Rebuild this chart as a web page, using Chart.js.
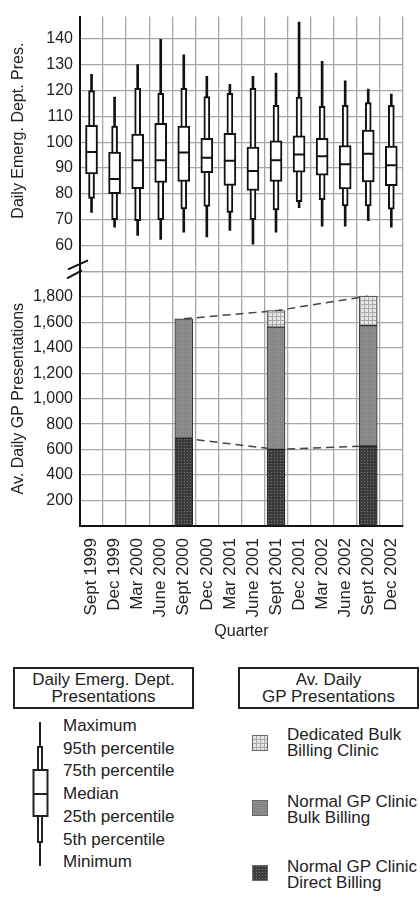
<!DOCTYPE html>
<html>
<head>
<meta charset="utf-8">
<script src="https://cdn.jsdelivr.net/npm/chart.js@4/dist/chart.umd.min.js"></script>
<style>
html, body { margin: 0; padding: 0; background: #fff; overflow: hidden; width: 420px; height: 899px; }
body { position: relative; font-family: "Liberation Sans", Arial, sans-serif; color: #222; }
#wrap { position: absolute; left: 0; top: 0; width: 424px; height: 645px; }
.box { position: absolute; border: 2px solid #222; box-sizing: border-box; text-align: center;
       font-size: 17px; line-height: 17px; display: flex; flex-direction: column; justify-content: center; }
.lab { position: absolute; font-size: 17px; line-height: 17px; white-space: nowrap; }
.lab2 { position: absolute; font-size: 17px; line-height: 16px; white-space: nowrap; }
.sw { position: absolute; width: 16px; height: 16px; }
</style>
</head>
<body>
<div id="wrap"><canvas id="chart" width="424" height="645"></canvas></div>

<div class="box" style="left:13px;top:667px;width:181px;height:42px">Daily Emerg. Dept.<br>Presentations</div>
<div class="box" style="left:238px;top:667px;width:181px;height:42px">Av. Daily<br>GP Presentations</div>

<svg style="position:absolute;left:0;top:0" width="60" height="899">
  <line x1="40" y1="722" x2="40" y2="866" stroke="#222" stroke-width="2"/>
  <rect x="38" y="747" width="4" height="95" fill="#fff" stroke="#222" stroke-width="2"/>
  <rect x="33.5" y="770" width="14" height="46" fill="#fff" stroke="#222" stroke-width="2"/>
  <line x1="33" y1="794" x2="48" y2="794" stroke="#222" stroke-width="2"/>
</svg>
<div class="lab" style="left:63px;top:717px">Maximum</div>
<div class="lab" style="left:63px;top:740px">95th percentile</div>
<div class="lab" style="left:63px;top:762px">75th percentile</div>
<div class="lab" style="left:63px;top:785px">Median</div>
<div class="lab" style="left:63px;top:808px">25th percentile</div>
<div class="lab" style="left:63px;top:831px">5th percentile</div>
<div class="lab" style="left:63px;top:853px">Minimum</div>

<canvas class="sw" id="sw1" width="16" height="16" style="left:252px;top:735px"></canvas>
<canvas class="sw" id="sw2" width="16" height="16" style="left:252px;top:800px"></canvas>
<canvas class="sw" id="sw3" width="16" height="16" style="left:252px;top:865px"></canvas>
<div class="lab2" style="left:287px;top:727px">Dedicated Bulk<br>Billing Clinic</div>
<div class="lab2" style="left:287px;top:794px">Normal GP Clinic<br>Bulk Billing</div>
<div class="lab2" style="left:287px;top:859px">Normal GP Clinic<br>Direct Billing</div>

<script>
// quarters on the x axis
var quarters = ["Sept 1999", "Dec 1999", "Mar 2000", "June 2000", "Sept 2000", "Dec 2000", "Mar 2001",
                "June 2001", "Sept 2001", "Dec 2001", "Mar 2002", "June 2002", "Sept 2002", "Dec 2002"];

// daily emergency dept. presentations (box plot stats)
var edMin    = [72.8, 67.1, 63.9, 62.4, 65.2, 63.3, 65.8, 60.5, 65.2, 74.7, 67.5, 67.5, 69.6, 67.1];
var edP5     = [78.2, 70.0, 69.6, 70.0, 74.2, 75.1, 72.8, 70.0, 73.8, 77.0, 77.8, 75.3, 75.3, 74.1];
var edP25    = [87.7, 80.1, 82.0, 84.4, 84.8, 88.2, 83.3, 81.3, 84.8, 88.4, 87.3, 81.9, 84.6, 83.2];
var edMedian = [96.2, 85.8, 93.0, 93.0, 96.0, 94.0, 92.8, 88.9, 93.0, 95.3, 94.6, 91.5, 95.6, 91.1];
var edP75    = [106.6, 96.2, 103.2, 107.3, 106.3, 101.5, 103.5, 98.1, 100.6, 102.5, 101.5, 98.7, 104.7, 98.5];
var edP95    = [120.0, 106.3, 120.9, 119.0, 120.9, 117.7, 119.0, 120.9, 114.3, 117.5, 113.9, 114.3, 115.4, 114.3];
var edMax    = [126.3, 117.5, 130.1, 139.9, 133.9, 125.6, 122.5, 125.6, 126.8, 146.6, 131.4, 123.8, 120.6, 118.7];

// av. daily GP presentations
var gpDirect    = [null, null, null, null, 689, null, null, null, 602, null, null, null, 628, null];
var gpBulk      = [null, null, null, null, 938, null, null, null, 960, null, null, null, 946, null];
var gpDedicated = [null, null, null, null, null, null, null, null, 129, null, null, null, 231, null];

var gpTotal = gpDirect.map(function (v, i) {
  return v === null ? null : v + gpBulk[i] + (gpDedicated[i] || 0);
});

// textures for the bars
function pattern(size, base, ink, draw) {
  var c = document.createElement("canvas");
  c.width = c.height = size;
  var g = c.getContext("2d");
  g.fillStyle = base;
  g.fillRect(0, 0, size, size);
  g.fillStyle = ink;
  draw(g);
  return g.createPattern(c, "repeat");
}
var directFill = pattern(3, "#3c3c3c", "#737373", function (g) { g.fillRect(1, 1, 1, 1); });
var bulkFill = pattern(2, "#8e8e8e", "#7a7a7a", function (g) { g.fillRect(0, 0, 1, 1); });
var dedicatedFill = pattern(4, "#e6e6e6", "#a8a8a8", function (g) { g.fillRect(0, 0, 4, 1); g.fillRect(0, 0, 1, 4); });

// legend swatches
[["sw1", dedicatedFill], ["sw2", bulkFill], ["sw3", directFill]].forEach(function (s) {
  var g = document.getElementById(s[0]).getContext("2d");
  g.fillStyle = s[1];
  g.fillRect(0, 0, 16, 16);
  g.strokeStyle = "#666";
  g.strokeRect(0.5, 0.5, 15, 15);
});

// the "//" axis break between the two panels
var breakMark = {
  id: "breakMark",
  afterDraw: function (chart) {
    var ctx = chart.ctx, x = chart.chartArea.left, y = chart.scales.yBot.top;
    ctx.save();
    ctx.strokeStyle = "#111";
    ctx.lineWidth = 2;
    ctx.beginPath();
    ctx.moveTo(x - 12, y - 2); ctx.lineTo(x + 8, y - 11);
    ctx.moveTo(x - 13, y + 7); ctx.lineTo(x + 2, y - 1);
    ctx.stroke();
    ctx.restore();
  }
};

Chart.defaults.font.family = '"Liberation Sans", Arial, sans-serif';
Chart.defaults.color = "#222";

var gridCol = "#a6a6a6";
var ink = "#111";

var ctx = document.getElementById("chart").getContext("2d");
var myChart = new Chart(ctx, {
  type: "bar",
  plugins: [breakMark],
  data: {
    labels: quarters,
    datasets: [
      {
        type: "line", yAxisID: "yTop", data: edMedian, showLine: false,
        pointStyle: "line", pointRadius: 6, pointBorderWidth: 2, pointBorderColor: ink
      },
      {
        yAxisID: "yTop", grouped: false, barThickness: 12, borderSkipped: false,
        data: quarters.map(function (q, i) { return [edP25[i], edP75[i]]; }),
        backgroundColor: "#fff", borderColor: ink, borderWidth: 2
      },
      {
        yAxisID: "yTop", grouped: false, barThickness: 6, borderSkipped: false,
        data: quarters.map(function (q, i) { return [edP5[i], edP95[i]]; }),
        backgroundColor: "#fff", borderColor: ink, borderWidth: 2
      },
      {
        yAxisID: "yTop", grouped: false, barThickness: 2, borderSkipped: false,
        data: quarters.map(function (q, i) { return [edMin[i], edMax[i]]; }),
        backgroundColor: ink, borderWidth: 0
      },
      {
        label: "Normal GP Clinic Direct Billing", yAxisID: "yBot", stack: "gp", data: gpDirect,
        backgroundColor: directFill, borderColor: "#222", borderWidth: 1, borderSkipped: false, barThickness: 18
      },
      {
        label: "Normal GP Clinic Bulk Billing", yAxisID: "yBot", stack: "gp", data: gpBulk,
        backgroundColor: bulkFill, borderColor: "#333", borderWidth: 1, borderSkipped: false, barThickness: 18
      },
      {
        label: "Dedicated Bulk Billing Clinic", yAxisID: "yBot", stack: "gp", data: gpDedicated,
        backgroundColor: dedicatedFill, borderColor: "#444", borderWidth: 1, borderSkipped: false, barThickness: 18
      },
      {
        type: "line", yAxisID: "yBot", data: gpTotal, spanGaps: true, pointRadius: 0,
        borderColor: "#444", borderWidth: 1.5, borderDash: [8, 5]
      },
      {
        type: "line", yAxisID: "yBot", data: gpDirect, spanGaps: true, pointRadius: 0,
        borderColor: "#444", borderWidth: 1.5, borderDash: [8, 5]
      }
    ]
  },
  options: {
    responsive: false,
    animation: false,
    events: [],
    layout: { padding: { top: 4, left: 0, right: 0, bottom: 0 } },
    plugins: { legend: { display: false }, tooltip: { enabled: false } },
    scales: {
      x: {
        offset: true,
        grid: { offset: true, color: gridCol, lineWidth: 1.3, drawTicks: false },
        border: { color: ink, width: 2 },
        ticks: { autoSkip: false, minRotation: 90, maxRotation: 90, padding: 12, font: { size: 17 }, color: "#222" },
        title: { display: true, text: "Quarter", font: { size: 16 }, color: "#222", padding: { top: 4, bottom: 4 } },
        afterFit: function (s) { s.height = 119; }
      },
      yBot: {
        position: "left", stack: "panels", stackWeight: 1,
        min: 0, max: 2000,
        grid: { color: gridCol, lineWidth: 1.3, drawTicks: false },
        border: { color: ink, width: 2 },
        ticks: {
          autoSkip: false, stepSize: 200, padding: 7, font: { size: 16 }, color: "#222",
          callback: function (v) { return v > 0 && v < 2000 ? v.toLocaleString("en-US") : ""; }
        },
        title: { display: true, text: "Av. Daily GP Presentations", font: { size: 16 }, color: "#222", padding: { top: 9, bottom: 0 } },
        afterFit: function (s) { s.width = 80; }
      },
      yTop: {
        position: "left", stack: "panels", stackWeight: 1,
        min: 50, max: 148.7,
        grid: {
          drawTicks: false, lineWidth: 1.3,
          color: function (c) { return c.tick && c.tick.value % 10 === 0 ? gridCol : "rgba(0,0,0,0)"; }
        },
        border: { color: ink, width: 2 },
        ticks: {
          autoSkip: false, includeBounds: false, stepSize: 10, padding: 7, font: { size: 16 }, color: "#222",
          callback: function (v) { return v >= 60 && v <= 140 && v % 10 === 0 ? v : ""; }
        },
        title: {
          display: true, text: "\u00a0\u00a0\u00a0\u00a0\u00a0\u00a0Daily Emerg. Dept. Pres.",
          font: { size: 16 }, color: "#222", padding: { top: 9, bottom: 0 }
        },
        afterFit: function (s) { s.width = 80; }
      }
    }
  }
});
</script>
</body>
</html>
